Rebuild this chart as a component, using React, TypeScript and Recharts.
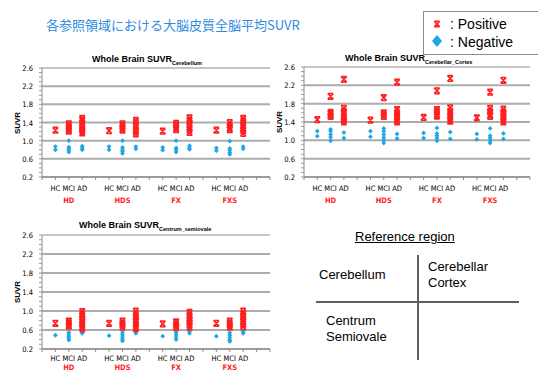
import React from 'react';
import { ScatterChart, Scatter, XAxis, YAxis, CartesianGrid } from 'recharts';

// order of every value list: HD(HC, MCI, AD), HDS(...), FX(...), FXS(...)
const groups = ['HD', 'HDS', 'FX', 'FXS'];
const diagnoses = ['HC', 'MCI', 'AD'];
const yTicks = [0.2, 0.6, 1.0, 1.4, 1.8, 2.2];
const yTop = [2.6];

const cerebellumPositive = [
  [1.23], [1.37, 1.32, 1.28, 1.24, 1.21], [1.49, 1.44, 1.38, 1.3, 1.25, 1.22, 1.17],
  [1.22], [1.37, 1.32, 1.27, 1.23], [1.45, 1.4, 1.32, 1.25, 1.2, 1.15],
  [1.21], [1.38, 1.33, 1.28, 1.24], [1.5, 1.44, 1.37, 1.3, 1.24, 1.18],
  [1.23], [1.4, 1.34, 1.28, 1.24], [1.49, 1.43, 1.34, 1.28, 1.22, 1.16],
];
const cerebellumNegative = [
  [0.87, 0.8], [1.0, 0.86, 0.83, 0.79, 0.75], [0.88, 0.84, 0.8],
  [0.87, 0.8], [1.0, 0.85, 0.8, 0.76, 0.72], [0.87, 0.82],
  [0.85, 0.79], [1.0, 0.84, 0.8, 0.75], [0.89, 0.84, 0.81],
  [0.84, 0.78], [0.99, 0.83, 0.79, 0.74, 0.7], [0.87, 0.82],
];

const cortexPositive = [
  [1.45], [1.96, 1.61, 1.58, 1.55, 1.52], [2.33, 1.7, 1.63, 1.58, 1.53, 1.48, 1.44, 1.4],
  [1.44], [1.93, 1.6, 1.56, 1.52], [2.27, 1.67, 1.6, 1.54, 1.49, 1.44, 1.4],
  [1.5], [2.08, 1.67, 1.62, 1.57, 1.53], [2.35, 1.71, 1.63, 1.57, 1.52, 1.47, 1.42],
  [1.49], [2.05, 1.7, 1.63, 1.56, 1.52], [2.31, 1.68, 1.61, 1.55, 1.49, 1.44, 1.4],
];
const cortexNegative = [
  [1.2, 1.09], [1.24, 1.2, 1.13, 1.07, 0.99], [1.17, 1.05],
  [1.2, 1.08], [1.26, 1.2, 1.13, 1.06, 1.0, 0.94], [1.14, 1.04],
  [1.16, 1.05], [1.27, 1.15, 1.1, 1.05, 0.99], [1.18, 1.03],
  [1.14, 1.02], [1.26, 1.1, 1.05, 0.99, 0.94], [1.15, 1.03],
];

const centrumPositive = [
  [0.74], [0.79, 0.75, 0.71, 0.68], [0.99, 0.93, 0.87, 0.82, 0.77, 0.72, 0.67, 0.63],
  [0.74], [0.79, 0.74, 0.7, 0.66], [1.0, 0.94, 0.88, 0.82, 0.77, 0.72, 0.67, 0.63],
  [0.73], [0.77, 0.73, 0.69, 0.65], [0.97, 0.91, 0.85, 0.8, 0.75, 0.7, 0.66],
  [0.74], [0.79, 0.74, 0.7, 0.66], [1.0, 0.94, 0.88, 0.82, 0.77, 0.72, 0.67],
];
const centrumNegative = [
  [0.49], [0.55, 0.51, 0.47, 0.43, 0.39], [0.57, 0.55, 0.53],
  [0.48], [0.55, 0.5, 0.45, 0.4, 0.37], [0.57, 0.53],
  [0.47], [0.55, 0.5, 0.45, 0.4], [0.57, 0.53],
  [0.47], [0.54, 0.49, 0.44, 0.39, 0.36], [0.57, 0.53],
];

const RED = '#ff1f1f';
const BLUE = '#1ca6e6';
const FONT = '"Liberation Sans", Arial, sans-serif';
const NARROW = '"Liberation Sans Narrow", "DejaVu Sans Condensed", "Liberation Sans", sans-serif';

// slot 0 is empty, then 3 diagnoses + a gap for each method
const toPoints = (lists: number[][]) => {
  const pts: { x: number; y: number }[] = [];
  lists.forEach((vals, i) => {
    const g = Math.floor(i / 3);
    const d = i % 3;
    vals.forEach((v) => pts.push({ x: g * 4 + d + 1, y: v }));
  });
  return pts;
};

const xTicks = Array.from({ length: 18 }, (_, i) => i);
const yMinor = Array.from({ length: 25 }, (_, i) => Math.round((0.2 + i * 0.1) * 10) / 10);

const PosMarker = ({ cx, cy }: any) => {
  const s = 2.8;
  return (
    <path
      d={`M${cx - s},${cy - s}L${cx + s},${cy - s}M${cx - s},${cy + s}L${cx + s},${cy + s}M${cx - s},${cy - s}L${cx + s},${cy + s}M${cx + s},${cy - s}L${cx - s},${cy + s}`}
      stroke={RED}
      strokeWidth={1.6}
      fill="none"
    />
  );
};

const NegMarker = ({ cx, cy }: any) => {
  const s = 2.4;
  return <path d={`M${cx},${cy - s}L${cx + s},${cy}L${cx},${cy + s}L${cx - s},${cy}Z`} fill={BLUE} />;
};

const makeXTick = (labelGap: number, groupGap: number) => ({ x, y, payload }: any) => {
  const v = payload.value;
  if (v < 1 || v > 16) return null;
  const slot = (v - 1) % 4;
  if (slot === 3) return null;
  return (
    <g>
      <text x={x} y={y + labelGap} textAnchor="middle" fontSize={7.5} fill="#000" fontFamily={NARROW}>
        {diagnoses[slot]}
      </text>
      {slot === 1 && (
        <text x={x} y={y + groupGap} textAnchor="middle" fontSize={7.5} fontWeight="bold" fill={RED} fontFamily={NARROW}>
          {groups[Math.floor((v - 1) / 4)]}
        </text>
      )}
    </g>
  );
};

const YTick = ({ x, y, payload }: any) => {
  const v = payload.value;
  const major = Math.round(v * 10) % 4 === 2;
  const ax = x + 7;
  return (
    <g>
      <line x1={ax - 3} x2={ax} y1={y} y2={y} stroke="#999" />
      {major && (
        <text x={x - 2} y={y + 3} textAnchor="end" fontSize={7.5} fill="#000" fontFamily={NARROW}>
          {v.toFixed(1)}
        </text>
      )}
    </g>
  );
};

interface PanelProps {
  left: number;
  top: number;
  width: number;
  height: number;
  marginTop: number;
  positive: number[][];
  negative: number[][];
  sub: string;
  titleLeft: number;
  titleTop: number;
  labelGap?: number;
  groupGap?: number;
}

function Panel({
  left, top, width, height, marginTop, positive, negative, sub, titleLeft, titleTop, labelGap = 9, groupGap = 21,
}: PanelProps) {
  const XTick = makeXTick(labelGap, groupGap);
  return (
    <>
      <div
        style={{
          position: 'absolute',
          left: titleLeft,
          top: titleTop,
          fontSize: 9,
          fontWeight: 'bold',
          fontFamily: FONT,
          whiteSpace: 'nowrap',
          lineHeight: '10px',
        }}
      >
        Whole Brain SUVR
        <span style={{ fontSize: 5.5, position: 'relative', top: 3 }}>{sub}</span>
      </div>
      <div
        style={{
          position: 'absolute',
          left: left + 17,
          top: top + marginTop + (height - marginTop - 33) / 2,
          transform: 'translate(-50%, -50%) rotate(-90deg)',
          fontSize: 8,
          fontWeight: 'bold',
          fontFamily: FONT,
        }}
      >
        SUVR
      </div>
      <div style={{ position: 'absolute', left, top }}>
        <ScatterChart width={width} height={height} margin={{ top: marginTop, right: 5, bottom: 0, left: 0 }}>
          <CartesianGrid horizontalValues={yTicks} vertical={false} stroke="#acacac" strokeWidth={2} />
          <CartesianGrid horizontalValues={yTop} vertical={false} stroke="#8c8c8c" strokeWidth={1} />
          <XAxis
            type="number"
            dataKey="x"
            domain={[0, 17]}
            ticks={xTicks}
            interval={0}
            height={33}
            tickSize={3}
            tickMargin={2}
            stroke="#8c8c8c"
            tick={<XTick />}
          />
          <YAxis
            type="number"
            dataKey="y"
            domain={[0.2, 2.6]}
            ticks={yMinor}
            interval={0}
            width={42}
            tickLine={false}
            tickSize={3}
            tickMargin={4}
            stroke="#8c8c8c"
            tick={<YTick />}
          />
          <Scatter data={toPoints(negative)} shape={<NegMarker />} isAnimationActive={false} />
          <Scatter data={toPoints(positive)} shape={<PosMarker />} isAnimationActive={false} />
        </ScatterChart>
      </div>
    </>
  );
}

const abs = (left: number, top: number, extra: React.CSSProperties = {}): React.CSSProperties => ({
  position: 'absolute',
  left,
  top,
  fontFamily: FONT,
  whiteSpace: 'nowrap',
  ...extra,
});

export default function App() {
  return (
    <div
      style={{
        position: 'absolute',
        left: 0,
        top: 0,
        width: 538,
        height: 371,
        overflow: 'hidden',
        background: '#fff',
        fontFamily: FONT,
      }}
    >
      <div style={abs(46, 16, { fontSize: 13, color: '#2f8be0', fontFamily: '"Noto Sans CJK JP", sans-serif', lineHeight: '18px' })}>
        各参照領域における大脳皮質全脳平均SUVR
      </div>

      <div
        style={{
          position: 'absolute',
          left: 423,
          top: 11,
          width: 130,
          height: 42,
          border: '1.5px solid #8c8c8c',
        }}
      />
      <svg style={{ position: 'absolute', left: 430, top: 17 }} width={16} height={32}>
        <PosMarker cx={7} cy={7} />
        <path d="M7,18L12,24L7,30L2,24Z" fill={BLUE} />
      </svg>
      <div style={abs(450, 15, { fontSize: 14, lineHeight: '18px' })}>: Positive</div>
      <div style={abs(450, 33, { fontSize: 14, lineHeight: '18px' })}>: Negative</div>

      <Panel
        left={0}
        top={40}
        width={275}
        height={170}
        marginTop={28}
        positive={cerebellumPositive}
        negative={cerebellumNegative}
        sub="Cerebellum"
        titleLeft={92}
        titleTop={54}
      />
      <Panel
        left={262}
        top={40}
        width={273}
        height={170}
        marginTop={27}
        positive={cortexPositive}
        negative={cortexNegative}
        sub="Cerebellar_Cortex"
        titleLeft={345}
        titleTop={53}
      />
      <Panel
        left={0}
        top={207}
        width={275}
        height={175}
        marginTop={28}
        positive={centrumPositive}
        negative={centrumNegative}
        sub="Centrum_semiovale"
        titleLeft={79}
        titleTop={220}
        labelGap={6.5}
        groupGap={15.5}
      />

      <div style={abs(355, 229, { fontSize: 13, textDecoration: 'underline', lineHeight: '16px' })}>Reference region</div>
      <div style={{ position: 'absolute', left: 417, top: 255, width: 2, height: 105, background: '#606060' }} />
      <div style={{ position: 'absolute', left: 316, top: 301, width: 203, height: 2, background: '#606060' }} />
      <div style={abs(319, 267, { fontSize: 13, lineHeight: '16px' })}>Cerebellum</div>
      <div style={abs(428, 259, { fontSize: 13, lineHeight: '16px' })}>
        Cerebellar
        <br />
        Cortex
      </div>
      <div style={abs(326, 313, { fontSize: 13, lineHeight: '16px' })}>
        Centrum
        <br />
        Semiovale
      </div>
    </div>
  );
}
